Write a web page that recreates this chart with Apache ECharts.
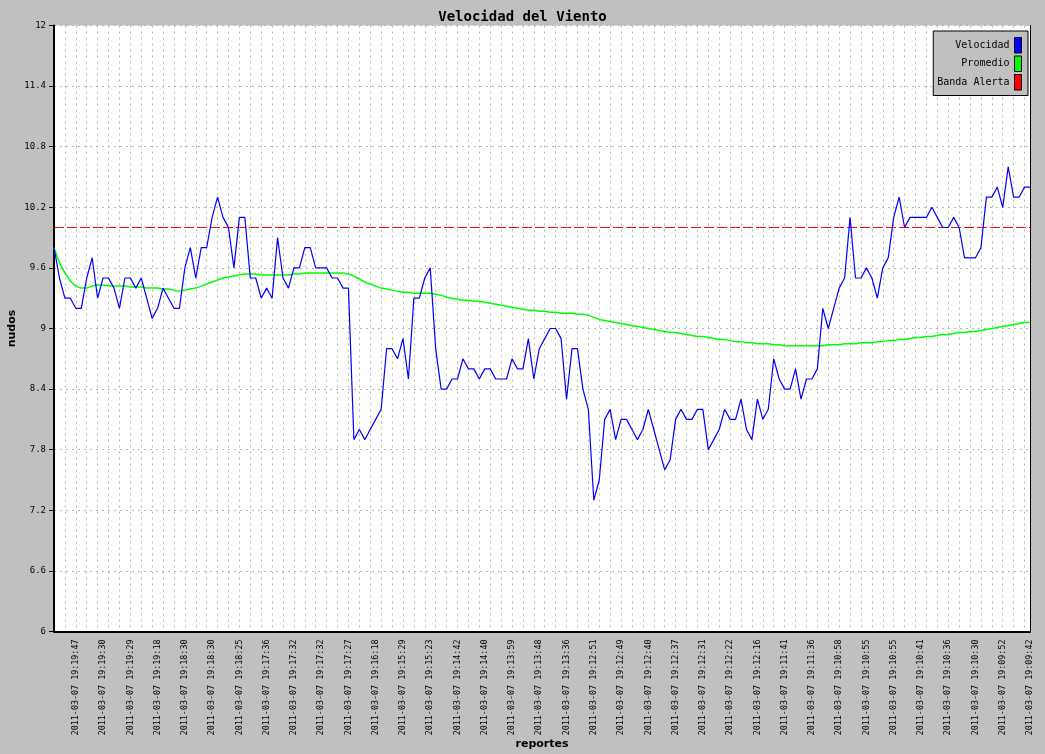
<!DOCTYPE html>
<html>
<head>
<meta charset="utf-8">
<script src="https://cdn.jsdelivr.net/npm/echarts@6/dist/echarts.min.js"></script>
<style>
html,body{margin:0;padding:0;background:#c0c0c0;}
#chart{width:1045px;height:754px;}
</style>
</head>
<body>
<div id="chart"></div>
<script>
// tick labels shown on the category axis (one every 5 reports, starting at report 5)
var tickLabels = [
"2011-03-07 19:19:47","2011-03-07 19:19:30","2011-03-07 19:19:29","2011-03-07 19:19:18",
"2011-03-07 19:18:30","2011-03-07 19:18:30","2011-03-07 19:18:25","2011-03-07 19:17:36",
"2011-03-07 19:17:32","2011-03-07 19:17:32","2011-03-07 19:17:27","2011-03-07 19:16:18",
"2011-03-07 19:15:29","2011-03-07 19:15:23","2011-03-07 19:14:42","2011-03-07 19:14:40",
"2011-03-07 19:13:59","2011-03-07 19:13:48","2011-03-07 19:13:36","2011-03-07 19:12:51",
"2011-03-07 19:12:49","2011-03-07 19:12:40","2011-03-07 19:12:37","2011-03-07 19:12:31",
"2011-03-07 19:12:22","2011-03-07 19:12:16","2011-03-07 19:11:41","2011-03-07 19:11:36",
"2011-03-07 19:10:58","2011-03-07 19:10:55","2011-03-07 19:10:55","2011-03-07 19:10:41",
"2011-03-07 19:10:36","2011-03-07 19:10:30","2011-03-07 19:09:52","2011-03-07 19:09:42"
];

var velocidad = [
9.8,9.5,9.3,9.3,9.2,9.2,9.5,9.7,9.3,9.5,
9.5,9.4,9.2,9.5,9.5,9.4,9.5,9.3,9.1,9.2,
9.4,9.3,9.2,9.2,9.6,9.8,9.5,9.8,9.8,10.1,
10.3,10.1,10.0,9.6,10.1,10.1,9.5,9.5,9.3,9.4,
9.3,9.9,9.5,9.4,9.6,9.6,9.8,9.8,9.6,9.6,
9.6,9.5,9.5,9.4,9.4,7.9,8.0,7.9,8.0,8.1,
8.2,8.8,8.8,8.7,8.9,8.5,9.3,9.3,9.5,9.6,
8.8,8.4,8.4,8.5,8.5,8.7,8.6,8.6,8.5,8.6,
8.6,8.5,8.5,8.5,8.7,8.6,8.6,8.9,8.5,8.8,
8.9,9.0,9.0,8.9,8.3,8.8,8.8,8.4,8.2,7.3,
7.5,8.1,8.2,7.9,8.1,8.1,8.0,7.9,8.0,8.2,
8.0,7.8,7.6,7.7,8.1,8.2,8.1,8.1,8.2,8.2,
7.8,7.9,8.0,8.2,8.1,8.1,8.3,8.0,7.9,8.3,
8.1,8.2,8.7,8.5,8.4,8.4,8.6,8.3,8.5,8.5,
8.6,9.2,9.0,9.2,9.4,9.5,10.1,9.5,9.5,9.6,
9.5,9.3,9.6,9.7,10.1,10.3,10.0,10.1,10.1,10.1,
10.1,10.2,10.1,10.0,10.0,10.1,10.0,9.7,9.7,9.7,
9.8,10.3,10.3,10.4,10.2,10.6,10.3,10.3,10.4,10.4
];

var promedio = [
9.80,9.65,9.55,9.47,9.42,9.40,9.40,9.42,9.43,9.43,
9.42,9.42,9.42,9.42,9.41,9.41,9.41,9.40,9.40,9.40,
9.39,9.39,9.38,9.37,9.38,9.39,9.40,9.42,9.44,9.46,
9.48,9.50,9.51,9.52,9.53,9.54,9.54,9.54,9.53,9.53,
9.53,9.53,9.53,9.53,9.54,9.54,9.55,9.55,9.55,9.55,
9.55,9.55,9.55,9.55,9.54,9.52,9.49,9.46,9.44,9.42,
9.40,9.39,9.38,9.37,9.36,9.36,9.35,9.35,9.35,9.35,
9.34,9.33,9.31,9.30,9.29,9.28,9.28,9.27,9.27,9.26,
9.25,9.24,9.23,9.22,9.21,9.20,9.19,9.18,9.18,9.17,
9.17,9.16,9.16,9.15,9.15,9.15,9.14,9.14,9.13,9.11,
9.09,9.08,9.07,9.06,9.05,9.04,9.03,9.02,9.01,9.00,
8.99,8.98,8.97,8.96,8.96,8.95,8.94,8.93,8.92,8.92,
8.91,8.90,8.89,8.89,8.88,8.87,8.87,8.86,8.86,8.85,
8.85,8.85,8.84,8.84,8.83,8.83,8.83,8.83,8.83,8.83,
8.83,8.83,8.84,8.84,8.84,8.85,8.85,8.85,8.86,8.86,
8.86,8.87,8.87,8.88,8.88,8.89,8.89,8.90,8.91,8.91,
8.92,8.92,8.93,8.94,8.94,8.95,8.96,8.96,8.97,8.97,
8.98,8.99,9.00,9.01,9.02,9.03,9.04,9.05,9.06,9.06
];

var alertaValue = 10.0;
var seriesNames = ["Velocidad", "Promedio", "Banda Alerta"];

// build the category list: a tick label every fifth report
var categories = [];
for (var i = 0; i < velocidad.length; i++) {
  categories.push((i % 5 === 4) ? tickLabels[(i - 4) / 5] : "");
}
var banda = velocidad.map(function(){ return alertaValue; });

var mono = "DejaVu Sans Mono";
var chart = echarts.init(document.getElementById('chart'), null, {renderer: 'canvas'});
chart.setOption({
  animation: false,
  backgroundColor: '#c0c0c0',
  title: {
    text: 'Velocidad del Viento',
    left: 'center',
    top: 5,
    textStyle: {fontFamily: mono, fontSize: 14, fontWeight: 'bold', color: '#000'}
  },
  legend: {
    right: 17,
    top: 31,
    orient: 'vertical',
    align: 'right',
    backgroundColor: '#c0c0c0',
    borderColor: '#000',
    borderWidth: 1,
    borderRadius: 0,
    padding: [6, 6, 5, 4],
    itemGap: 2,
    itemWidth: 7,
    itemHeight: 15.5,
    icon: 'rect',
    itemStyle: {borderColor: '#000', borderWidth: 1},
    textStyle: {fontFamily: mono, fontSize: 10, color: '#000', width: 80, align: 'right'},
    data: seriesNames
  },
  grid: {
    left: 54, right: 15, top: 25.5, bottom: 122.5,
    containLabel: false,
    outerBoundsMode: 'none',
    show: true, backgroundColor: '#ffffff', borderWidth: 0
  },
  xAxis: {
    type: 'category',
    boundaryGap: false,
    data: categories,
    name: 'reportes',
    nameLocation: 'middle',
    nameGap: 107,
    nameMoveOverlap: false,
    nameTextStyle: {fontFamily: 'DejaVu Sans', fontWeight: 'bold', fontSize: 11, color: '#000'},
    axisLine: {lineStyle: {color: '#000', width: 2}},
    axisTick: {show: false},
    axisLabel: {
      rotate: 90,
      interval: function(index){ return index % 5 === 4; },
      fontFamily: mono, fontSize: 8.4, color: '#000', margin: 8
    },
    splitLine: {
      show: true,
      interval: 1,
      lineStyle: {color: '#b4b4b4', type: [2, 4], width: 1}
    }
  },
  yAxis: [{
    type: 'value',
    min: 6, max: 12, interval: 0.6,
    name: 'nudos',
    nameLocation: 'middle',
    nameGap: 36,
    nameMoveOverlap: false,
    nameRotate: 90,
    nameTextStyle: {fontFamily: 'DejaVu Sans', fontWeight: 'bold', fontSize: 11, color: '#000'},
    axisLine: {show: true, lineStyle: {color: '#000', width: 2}},
    axisTick: {show: true, length: 5, lineStyle: {color: '#000'}},
    axisLabel: {
      fontFamily: mono, fontSize: 9, color: '#000', margin: 8,
      formatter: function(v){ return String(+v.toFixed(1)); }
    },
    splitLine: {show: true, lineStyle: {color: '#b4b4b4', type: [2, 4], width: 1}}
  }, {
    type: 'value',
    min: 6, max: 12, interval: 0.6,
    position: 'right',
    axisLine: {show: true, lineStyle: {color: '#000', width: 1}},
    axisTick: {show: false},
    axisLabel: {show: false},
    splitLine: {show: false}
  }],
  series: [{
    name: seriesNames[0],
    type: 'line',
    data: velocidad,
    symbol: 'none',
    lineStyle: {color: '#0000ff', width: 1.2},
    itemStyle: {color: '#0000ff'},
    z: 3
  }, {
    name: seriesNames[1],
    type: 'line',
    data: promedio,
    symbol: 'none',
    lineStyle: {color: '#00ff00', width: 1.5},
    itemStyle: {color: '#00ff00'},
    z: 2
  }, {
    name: seriesNames[2],
    type: 'line',
    data: banda,
    symbol: 'none',
    lineStyle: {color: '#ff0000', width: 1, type: [10, 3]},
    itemStyle: {color: '#ff0000'},
    z: 1
  }]
});
</script>
</body>
</html>
